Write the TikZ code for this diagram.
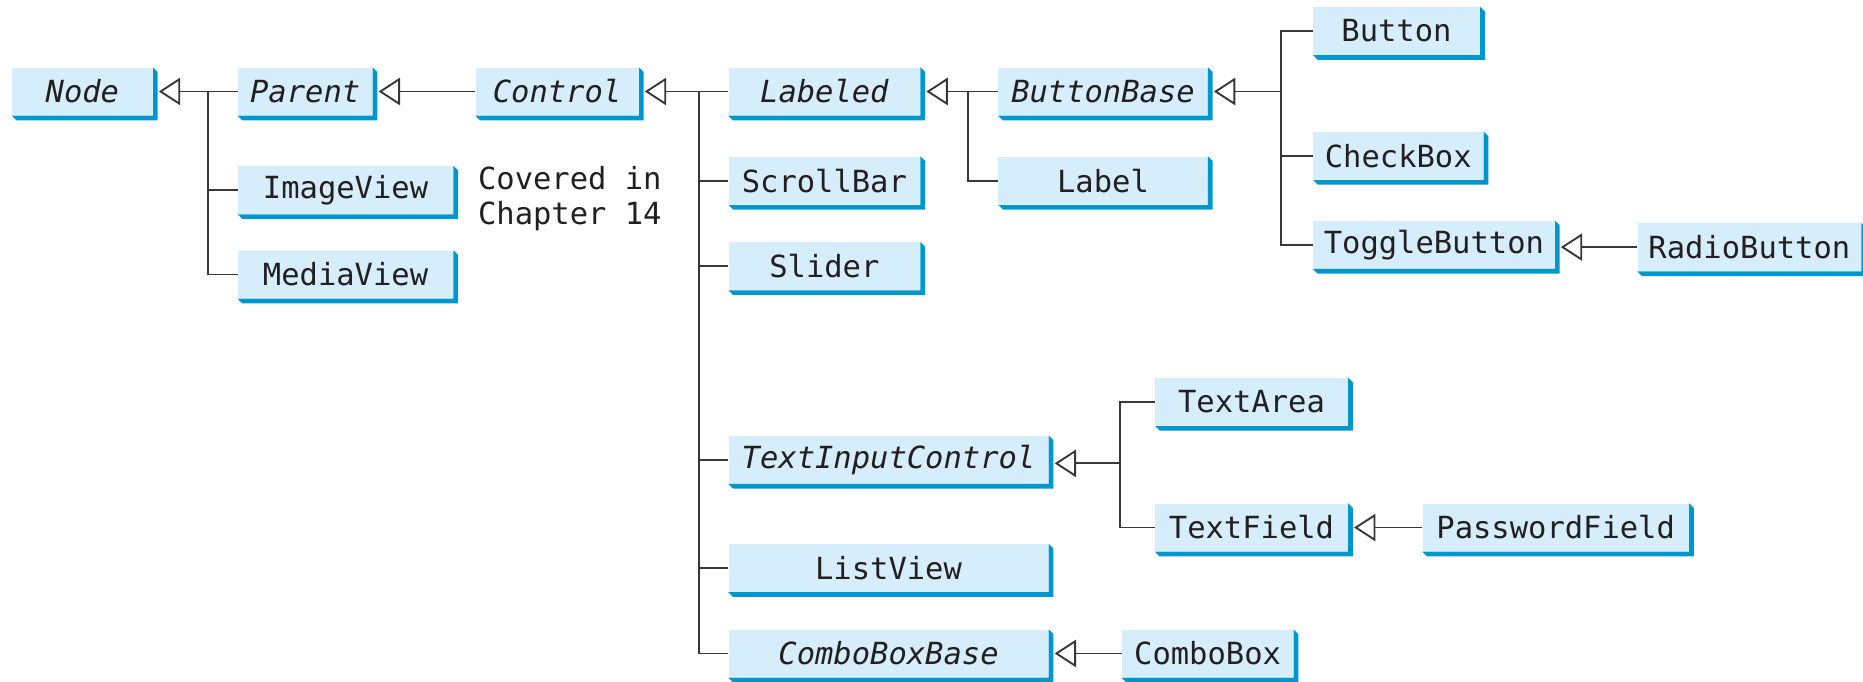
\documentclass[tikz,border=0pt]{standalone}
\usepackage{fontspec}
\setmonofont{DejaVu Sans Mono}[ItalicFont={DejaVu Sans Mono Oblique}]
\usetikzlibrary{arrows.meta}
\definecolor{boxfill}{RGB}{214,238,251}
\definecolor{boxshade}{RGB}{0,152,204}
\definecolor{textcol}{RGB}{35,31,32}
\definecolor{linecol}{RGB}{55,55,55}
\newcommand{\clsfont}{\ttfamily\fontsize{14.6}{17}\selectfont}
\tikzset{
  cls/.style={fill=boxfill, minimum height=0.8cm, inner sep=0pt, anchor=west,
              text=textcol, font=\clsfont},
  abs/.style={cls, font=\clsfont\itshape},
  link/.style={draw=linecol, line width=0.9pt},
  inh/.style={link, -{Triangle[length=0.36cm, width=0.46cm, fill=white, line width=0.9pt]}},
  shade/.style={fill=boxshade},
}
\begin{document}
\begin{tikzpicture}[x=0.02cm, y=-0.02cm]
\useasboundingbox (0,0) rectangle (1568,574);
% boxes
\node[abs, minimum width=2.36cm] (Node) at (10,77) {Node};
\node[abs, minimum width=2.26cm] (Parent) at (200,77) {Parent};
\node[abs, minimum width=2.74cm] (Control) at (400,77) {Control};
\node[abs, minimum width=3.22cm] (Labeled) at (613,77) {Labeled};
\node[abs, minimum width=3.52cm] (ButtonBase) at (840,77) {ButtonBase};
\node[cls, minimum width=3.52cm] (Label) at (840,152) {Label};
\node[cls, minimum width=3.62cm] (ImageView) at (200,160) {ImageView};
\node[cls, minimum width=3.62cm] (MediaView) at (200,231) {MediaView};
\node[cls, minimum width=3.22cm] (ScrollBar) at (613,152) {ScrollBar};
\node[cls, minimum width=3.22cm] (Slider) at (613,224) {Slider};
\node[cls, minimum width=2.80cm] (Button) at (1105,26) {Button};
\node[cls, minimum width=2.86cm] (CheckBox) at (1105,131) {CheckBox};
\node[cls, minimum width=4.06cm] (ToggleButton) at (1105,206) {ToggleButton};
\node[cls, minimum width=3.76cm] (RadioButton) at (1378,208) {RadioButton};
\node[abs, minimum width=5.38cm] (TextInputControl) at (613,387) {TextInputControl};
\node[cls, minimum width=3.24cm] (TextArea) at (972,338) {TextArea};
\node[cls, minimum width=3.24cm] (TextField) at (972,444) {TextField};
\node[cls, minimum width=4.48cm] (PasswordField) at (1197,444) {PasswordField};
\node[cls, minimum width=5.38cm] (ListView) at (613,478) {ListView};
\node[abs, minimum width=5.38cm] (ComboBoxBase) at (613,550) {ComboBoxBase};
\node[cls, minimum width=2.88cm] (ComboBox) at (944,550) {ComboBox};
\node[anchor=west, align=left, inner sep=0pt, text=textcol, font=\clsfont] (note) at (402,167) {Covered in\\Chapter 14};
% shadows
\foreach \n in {Node,Parent,Control,Labeled,ButtonBase,Label,ImageView,MediaView,ScrollBar,Slider,Button,CheckBox,ToggleButton,RadioButton,TextInputControl,TextArea,TextField,PasswordField,ListView,ComboBoxBase,ComboBox}{
  \fill[shade] (\n.north east) -- ([shift={(4,4)}]\n.north east) -- ([shift={(4,4)}]\n.south east)
     -- ([shift={(4,4)}]\n.south west) -- (\n.south west) -- (\n.south east) -- cycle;
}
% junctions
\coordinate (jNode) at (175,77);
\coordinate (jControl) at (588,77);
\coordinate (jLabeled) at (815,77);
\coordinate (jButtonBase) at (1078,77);
\coordinate (jText) at (943,390);
% connectors
\draw[inh] (Parent.west) -- ([xshift=0.1cm]Node.east);
\draw[link] (ImageView.west) -| (jNode);
\draw[link] (MediaView.west) -| (jNode);
\draw[inh] (Control.west) -- ([xshift=0.1cm]Parent.east);
\draw[inh] (Labeled.west) -- ([xshift=0.1cm]Control.east);
\draw[link] (ScrollBar.west) -| (jControl);
\draw[link] (Slider.west) -| (jControl);
\draw[link] (TextInputControl.west) -| (jControl);
\draw[link] (ListView.west) -| (jControl);
\draw[link] (ComboBoxBase.west) -| (jControl);
\draw[inh] (ButtonBase.west) -- ([xshift=0.1cm]Labeled.east);
\draw[link] (Label.west) -| (jLabeled);
\draw[inh] (jButtonBase) -- ([xshift=0.1cm]ButtonBase.east);
\draw[link] (Button.west) -| (jButtonBase);
\draw[link] (CheckBox.west) -| (jButtonBase);
\draw[link] (ToggleButton.west) -| (jButtonBase);
\draw[inh] (RadioButton.west) -- ([xshift=0.1cm]RadioButton.west -| ToggleButton.east);
\draw[inh] (jText) -- ([xshift=0.1cm]jText -| TextInputControl.east);
\draw[link] (TextArea.west) -| (jText);
\draw[link] (TextField.west) -| (jText);
\draw[inh] (PasswordField.west) -- ([xshift=0.1cm]TextField.east);
\draw[inh] (ComboBox.west) -- ([xshift=0.1cm]ComboBoxBase.east);
\end{tikzpicture}
\end{document}
